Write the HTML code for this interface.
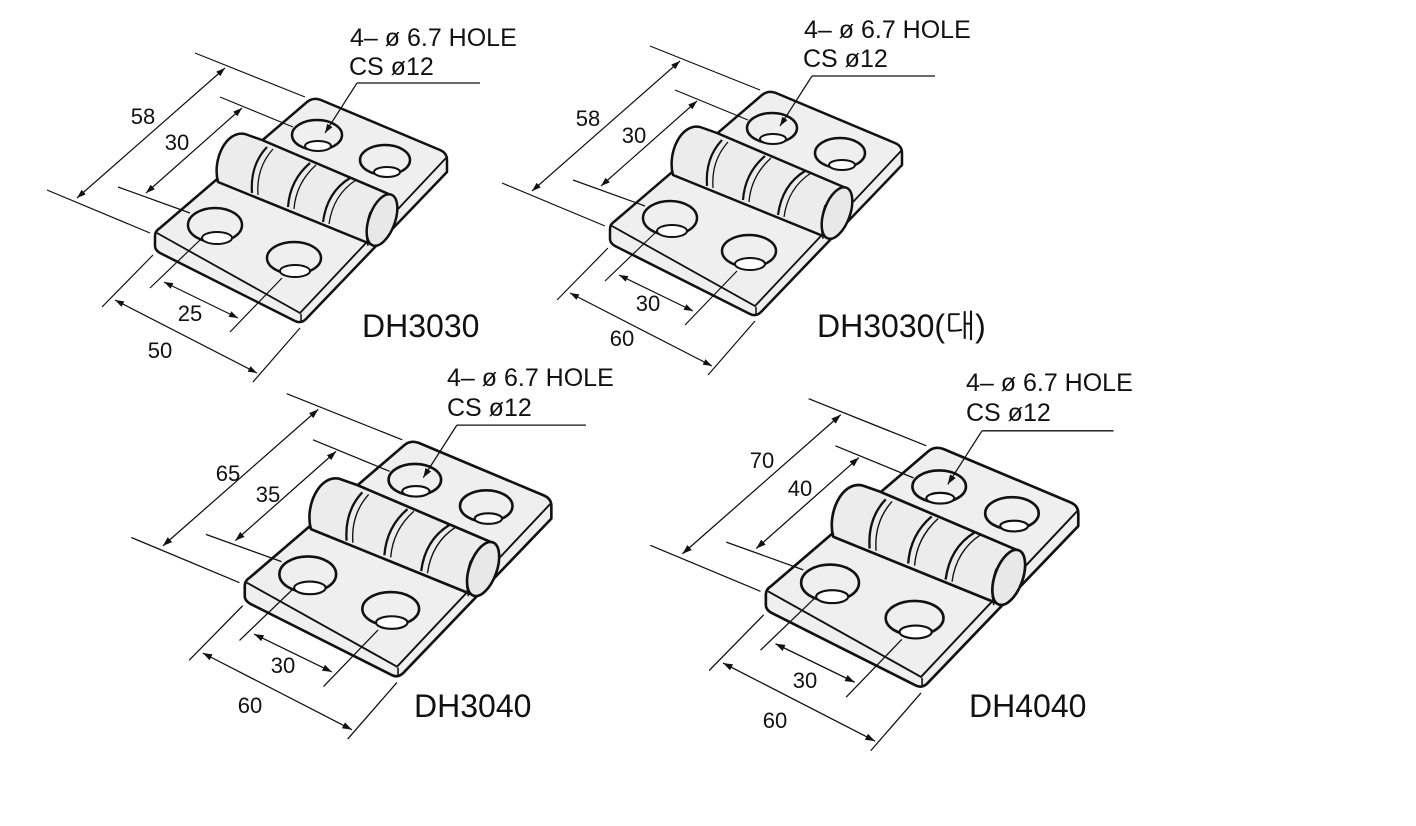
<!DOCTYPE html>
<html><head><meta charset="utf-8"><style>
html,body{margin:0;padding:0;background:#fff;}
svg{display:block;}
text{font-family:"Liberation Sans","NanumGothic",sans-serif;fill:#111;}
.d{font-size:22px;text-anchor:middle;}
.t{font-size:25px;}
.n{font-size:32px;}
</style></head><body>
<svg width="1416" height="826" viewBox="0 0 1416 826" xmlns="http://www.w3.org/2000/svg">
<defs>
<marker id="a" viewBox="0 0 10 10" refX="10" refY="5" markerWidth="9" markerHeight="9" orient="auto-start-reverse" markerUnits="userSpaceOnUse"><path d="M0,1.5 L10,5 L0,8.5 Z" fill="#111"/></marker>
<g id="h">
 <path d="M155,236 Q155,231 160,228 L307,102 Q313,97 321,100 L440,150 Q447,153 447,160 L447,172 L306,319 Q301,324 295,321 L160,253 Q155,250 155,246 Z" fill="#efefef" stroke="#111" stroke-width="2.5" stroke-linejoin="round"/>
 <path d="M157,233 L300,313 L446,158" fill="none" stroke="#111" stroke-width="1.8"/>
 <path d="M301,314 L301,322" stroke="#111" stroke-width="1.5"/>
 <path d="M218,182 C212,160 226,130 245,134 L262,140 L391,195 L373,245 L218,182 Z" fill="#ececec" stroke="#111" stroke-width="2.5" stroke-linejoin="round"/>
 <path d="M267,147 Q250,165 252,193" fill="none" stroke="#111" stroke-width="2.2"/>
 <path d="M273,149 Q256,168 258,195" fill="none" stroke="#111" stroke-width="1.3"/>
 <path d="M310,163 Q290,180 288,207" fill="none" stroke="#111" stroke-width="2.2"/>
 <path d="M316,165 Q296,183 294,209" fill="none" stroke="#111" stroke-width="1.3"/>
 <path d="M350,178 Q327,192 323,222" fill="none" stroke="#111" stroke-width="2.2"/>
 <path d="M356,180 Q333,195 329,224" fill="none" stroke="#111" stroke-width="1.3"/>
 <ellipse cx="382" cy="220" rx="13" ry="27" transform="rotate(20 382 220)" fill="#e8e8e8" stroke="#111" stroke-width="2.5"/>
 <path d="M370,212 Q364,230 368,246" fill="none" stroke="#111" stroke-width="1.3"/>
 <ellipse cx="317" cy="135" rx="25" ry="15" fill="#efefef" stroke="#111" stroke-width="2.5"/>
 <ellipse cx="318" cy="146" rx="13" ry="5" fill="#fff" stroke="#111" stroke-width="2"/>
 <ellipse cx="385" cy="160" rx="25" ry="15" fill="#efefef" stroke="#111" stroke-width="2.5"/>
 <ellipse cx="387" cy="172" rx="13" ry="5" fill="#fff" stroke="#111" stroke-width="2"/>
 <ellipse cx="215" cy="225" rx="27" ry="17" fill="#efefef" stroke="#111" stroke-width="2.5"/>
 <ellipse cx="217" cy="238" rx="15" ry="6" fill="#fff" stroke="#111" stroke-width="2"/>
 <ellipse cx="294" cy="258" rx="27" ry="16" fill="#efefef" stroke="#111" stroke-width="2.5"/>
 <ellipse cx="295" cy="271" rx="15" ry="6" fill="#fff" stroke="#111" stroke-width="2"/>
 <g stroke="#111" stroke-width="1.2" fill="none">
  <path d="M195,53 L305,97 M47,190 L150,233 M220,97 L293,127 M118,187 L190,213"/>
  <path d="M225,68 L77,198" marker-start="url(#a)" marker-end="url(#a)"/>
  <path d="M242,108 L146,193" marker-start="url(#a)" marker-end="url(#a)"/>
  <path d="M153,255 L102,307 M300,328 L253,382 M200,240 L150,288 M282,278 L230,332"/>
  <path d="M115,300 L257,373" marker-start="url(#a)" marker-end="url(#a)"/>
  <path d="M164,282 L238,318" marker-start="url(#a)" marker-end="url(#a)"/>
  <path d="M357,83 L325,133" marker-end="url(#a)"/>
  <path d="M357,83 L480,83"/>
 </g>
</g>
</defs>

<use href="#h"/>
<use href="#h" transform="translate(455,-7)"/>
<use href="#h" transform="translate(82,338) scale(1.05)"/>
<use href="#h" transform="translate(600,342) scale(1.07)"/>

<text class="t" x="350" y="46">4– ø 6.7 HOLE</text>
<text class="t" x="349" y="75">CS ø12</text>
<text class="d" x="143" y="124">58</text>
<text class="d" x="177" y="150">30</text>
<text class="d" x="190" y="321">25</text>
<text class="d" x="160" y="358">50</text>
<text class="n" x="362" y="337">DH3030</text>

<text class="t" x="804" y="38">4– ø 6.7 HOLE</text>
<text class="t" x="803" y="67">CS ø12</text>
<text class="d" x="588" y="126">58</text>
<text class="d" x="634" y="143">30</text>
<text class="d" x="648" y="311">30</text>
<text class="d" x="622" y="346">60</text>
<text class="n" x="817" y="337">DH3030(대)</text>

<text class="t" x="447" y="386">4– ø 6.7 HOLE</text>
<text class="t" x="447" y="416">CS ø12</text>
<text class="d" x="228" y="481">65</text>
<text class="d" x="268" y="502">35</text>
<text class="d" x="283" y="673">30</text>
<text class="d" x="250" y="713">60</text>
<text class="n" x="414" y="717">DH3040</text>

<text class="t" x="966" y="391">4– ø 6.7 HOLE</text>
<text class="t" x="966" y="421">CS ø12</text>
<text class="d" x="762" y="468">70</text>
<text class="d" x="800" y="496">40</text>
<text class="d" x="805" y="688">30</text>
<text class="d" x="775" y="728">60</text>
<text class="n" x="969" y="717">DH4040</text>
</svg>
</body></html>
